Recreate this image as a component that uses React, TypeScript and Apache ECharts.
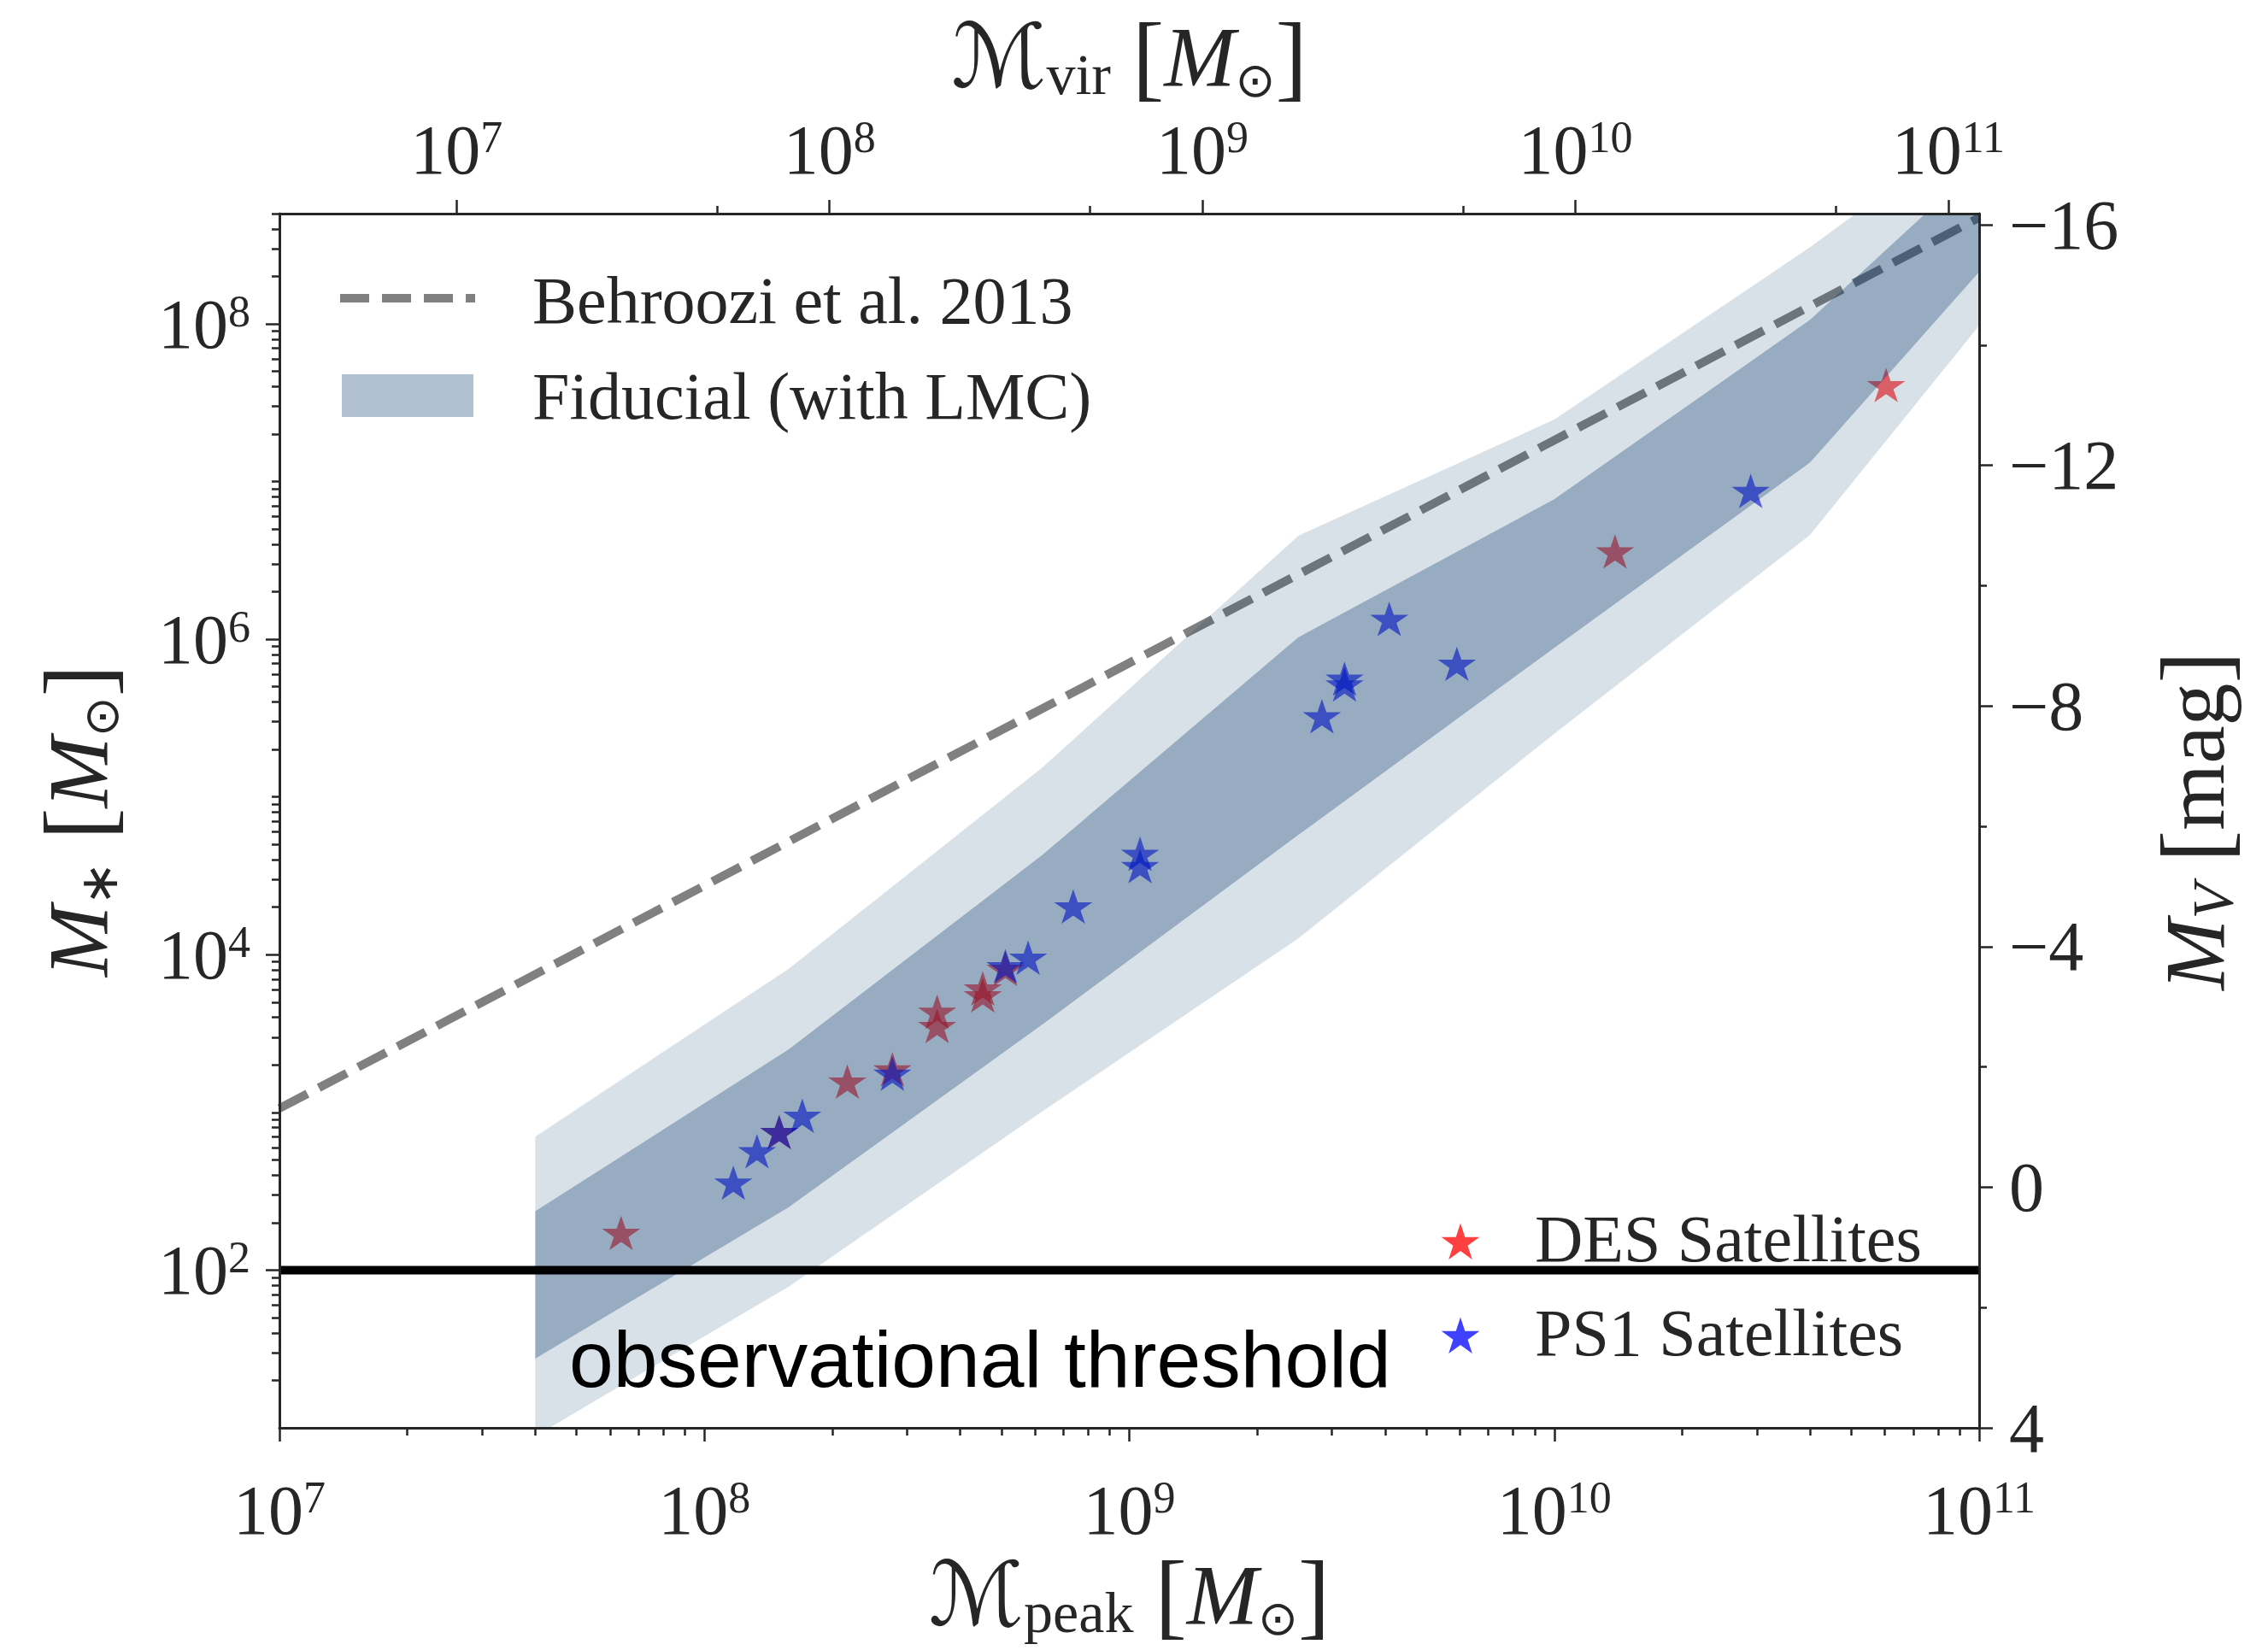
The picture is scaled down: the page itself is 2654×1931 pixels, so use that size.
import React, { useEffect, useRef } from "react";
import * as echarts from "echarts";

const W = 2654;
const H = 1931;

// Halo-mass bins (M_peak) at which the fiducial model envelopes are tabulated
const bandMass = [4e7, 1.58e8, 6.25e8, 2.5e9, 1e10, 4e10, 1.6e11];
// outer (light) envelope of stellar mass
const outerUpper = [702, 8150, 1.54e5, 4.54e6, 2.47e7, 3.06e8, 4.79e9];
const outerLower = [8.85, 78.7, 1016, 1.27e4, 2.52e5, 4.59e6, 4.68e8];
// inner (dark) envelope of stellar mass
const innerUpper = [236, 2510, 4.3e4, 1.03e6, 7.73e6, 1.06e8, 3.31e9];
const innerLower = [27.5, 251, 3620, 5.75e4, 8.81e5, 1.32e7, 8.91e8];

// Behroozi et al. 2013 relation (a power law across this mass range)
const behroozi = [
  [1e7, 1060],
  [1e11, 4.72e8],
];

// [M_peak, M_*]
const desSatellites = [
  [6.37e7, 170],
  [1.5e8, 741],
  [2.17e8, 1550],
  [2.77e8, 1850],
  [3.53e8, 4300],
  [3.53e8, 3490],
  [4.52e8, 6040],
  [4.52e8, 5460],
  [5.11e8, 8040],
  [1.39e10, 3.56e6],
  [6.04e10, 4.04e7],
];
const ps1Satellites = [
  [1.17e8, 354],
  [1.33e8, 561],
  [1.5e8, 741],
  [1.7e8, 940],
  [2.77e8, 1740],
  [5.11e8, 8350],
  [5.78e8, 9460],
  [7.38e8, 2.0e4],
  [1.06e9, 4.31e4],
  [1.06e9, 3.6e4],
  [2.84e9, 3.21e5],
  [3.21e9, 5.55e5],
  [3.21e9, 5.11e5],
  [4.09e9, 1.33e6],
  [5.9e9, 6.9e5],
  [2.9e10, 8.61e6],
];

// detection limit in stellar mass
const thresholdMass = 100;
const thresholdSpan = [1e7, 1e11];

// axis ranges and ticks
const peakRange = [1e7, 1e11];
const virRange = [3.35e6, 1.21e11];
const mstarRange = [10, 5e8];
const magRange = [-16.185, 4];
const peakTicks = [1e7, 1e8, 1e9, 1e10, 1e11];
const virTicks = [1e7, 1e8, 1e9, 1e10, 1e11];
const virMinorTicks = [5e7, 5e8, 5e9, 5e10];
const mstarTicks = [1e2, 1e4, 1e6, 1e8];
const magTicks = [-16, -12, -8, -4, 0, 4];
const magMinorTicks = [-14, -10, -6, -2, 2];

const INK = "#262626";
const SERIF = "'Liberation Serif', 'Times New Roman', serif";
const SANS = "'Liberation Sans', Arial, Helvetica, sans-serif";
const SYMBOL_FONT = "'DejaVu Sans', 'DejaVu Serif', sans-serif";

const BAND_RGB = "0, 51, 102";
const STAR_PATH =
  "path://M0,-100L22.45,-30.9L95.11,-30.9L36.33,11.8L58.78,80.9L0,38.2L-58.78,80.9L-36.33,11.8L-95.11,-30.9L-22.45,-30.9Z";
const STAR_R = 23.5;

// log-axis minor tick values: mantissa 1..9 in every decade, skipping the majors
function logMinor(lo: number, hi: number, majors: number[]) {
  const out: number[] = [];
  for (let e = Math.floor(Math.log10(lo)); e <= Math.ceil(Math.log10(hi)); e++) {
    for (let m = 1; m <= 9; m++) {
      const v = m * Math.pow(10, e);
      if (v <= lo || v > hi) continue;
      if (majors.some((t) => Math.abs(t - v) / v < 1e-9)) continue;
      out.push(v);
    }
  }
  return out;
}

function starPoints(cx: number, cy: number, r: number) {
  const pts: number[][] = [];
  for (let k = 0; k < 10; k++) {
    const a = -Math.PI / 2 + (k * Math.PI) / 5;
    const rr = k % 2 === 0 ? r : r * 0.381966;
    pts.push([cx + rr * Math.cos(a), cy + rr * Math.sin(a)]);
  }
  return pts;
}

const powLabel = (v: number) => `{b|10}{s|${Math.round(Math.log10(v))}}`;
const powRich = {
  b: { fontFamily: SERIF, fontSize: 82, lineHeight: 82, color: INK },
  s: { fontFamily: SERIF, fontSize: 52, lineHeight: 33, verticalAlign: "top", color: INK },
};
const magLabel = (v: number) => (v < 0 ? "\u2212" + Math.abs(v) : String(v));

const titleRich = {
  cal: { fontFamily: SYMBOL_FONT, fontSize: 104, lineHeight: 110, color: INK },
  it: { fontFamily: SERIF, fontStyle: "italic", fontSize: 100, lineHeight: 110, color: INK },
  rm: { fontFamily: SERIF, fontSize: 100, lineHeight: 110, color: INK },
  br: { fontFamily: SERIF, fontSize: 112, lineHeight: 110, color: INK },
  sub: { fontFamily: SERIF, fontSize: 68, lineHeight: 80, verticalAlign: "bottom", color: INK },
  subIt: {
    fontFamily: SERIF,
    fontStyle: "italic",
    fontSize: 68,
    lineHeight: 80,
    verticalAlign: "bottom",
    color: INK,
  },
  ast: { fontFamily: SYMBOL_FONT, fontSize: 62, lineHeight: 62, verticalAlign: "bottom", color: INK },
  sun: { fontFamily: SYMBOL_FONT, fontSize: 56, lineHeight: 56, verticalAlign: "bottom", color: INK },
};

const spine = { show: true, onZero: false, lineStyle: { color: INK, width: 3 } };
const noLine = { show: false, onZero: false };
const ticks = (values: number[], length: number) => ({
  show: true,
  inside: false,
  length,
  customValues: values,
  lineStyle: { color: INK, width: 2.5 },
});
const noSplit = { show: false };

function buildOption() {
  const peakMinor = logMinor(peakRange[0], peakRange[1], peakTicks);
  const mstarMinor = logMinor(mstarRange[0], mstarRange[1], mstarTicks);

  const bandSeries = (name: string, upper: number[], lower: number[], alpha: number, z: number) => ({
    name,
    type: "custom",
    coordinateSystem: "cartesian2d",
    xAxisIndex: 0,
    yAxisIndex: 0,
    clip: true,
    silent: true,
    z,
    encode: { x: 0, y: [1, 2] },
    data: bandMass.map((m, i) => [m, lower[i], upper[i]]),
    renderItem: (params: any, api: any) => {
      if (params.dataIndex !== 0) return null;
      const top = bandMass.map((m, i) => api.coord([m, upper[i]]));
      const bottom = bandMass.map((m, i) => api.coord([m, lower[i]])).reverse();
      return {
        type: "polygon",
        shape: { points: top.concat(bottom) },
        style: { fill: `rgba(${BAND_RGB}, ${alpha})` },
      };
    },
  });

  const legendY1 = 349;
  const legendY2 = 463;

  return {
    animation: false,
    backgroundColor: "#ffffff",
    textStyle: { fontFamily: SERIF },
    grid: {
      left: 327,
      top: 250,
      width: 1989,
      height: 1421,
      containLabel: false,
      outerBoundsMode: "none",
    },
    xAxis: [
      {
        type: "log",
        logBase: 10,
        min: peakRange[0],
        max: peakRange[1],
        position: "bottom",
        z: 10,
        axisLine: spine,
        axisTick: ticks(peakTicks, 16),
        axisLabel: { customValues: peakTicks, margin: 55, formatter: powLabel, rich: powRich },
        splitLine: noSplit,
        name: "{cal|\u2133}{sub|peak}{rm| }{br|[}{it|M}{sun|\u2299}{br|]}",
        nameLocation: "middle",
        nameGap: 140,
        nameMoveOverlap: false,
        nameTextStyle: { rich: titleRich },
      },
      {
        type: "log",
        logBase: 10,
        min: peakRange[0],
        max: peakRange[1],
        position: "bottom",
        z: 10,
        axisLine: noLine,
        axisTick: ticks(peakMinor, 9),
        axisLabel: { show: false },
        splitLine: noSplit,
      },
      {
        type: "log",
        logBase: 10,
        min: virRange[0],
        max: virRange[1],
        position: "top",
        z: 10,
        axisLine: spine,
        axisTick: ticks(virTicks, 16),
        axisLabel: { customValues: virTicks, margin: 34, formatter: powLabel, rich: powRich },
        splitLine: noSplit,
        name: "{cal|\u2133}{sub|vir}{rm| }{br|[}{it|M}{sun|\u2299}{br|]}",
        nameLocation: "middle",
        nameGap: 129,
        nameMoveOverlap: false,
        nameTextStyle: { rich: titleRich },
      },
      {
        type: "log",
        logBase: 10,
        min: virRange[0],
        max: virRange[1],
        position: "top",
        z: 10,
        axisLine: noLine,
        axisTick: ticks(virMinorTicks, 9),
        axisLabel: { show: false },
        splitLine: noSplit,
      },
    ],
    yAxis: [
      {
        type: "log",
        logBase: 10,
        min: mstarRange[0],
        max: mstarRange[1],
        position: "left",
        z: 10,
        axisLine: spine,
        axisTick: ticks(mstarTicks, 16),
        axisLabel: { customValues: mstarTicks, margin: 34, formatter: powLabel, rich: powRich },
        splitLine: noSplit,
        name: "{it|M}{ast|\u2217}{rm| }{br|[}{it|M}{sun|\u2299}{br|]}",
        nameLocation: "middle",
        nameGap: 181,
        nameRotate: 90,
        nameMoveOverlap: false,
        nameTextStyle: { rich: titleRich },
      },
      {
        type: "log",
        logBase: 10,
        min: mstarRange[0],
        max: mstarRange[1],
        position: "left",
        z: 10,
        axisLine: noLine,
        axisTick: ticks(mstarMinor, 9),
        axisLabel: { show: false },
        splitLine: noSplit,
      },
      {
        type: "value",
        min: magRange[0],
        max: magRange[1],
        inverse: true,
        position: "right",
        z: 10,
        axisLine: spine,
        axisTick: ticks(magTicks, 16),
        axisLabel: {
          customValues: magTicks,
          margin: 35,
          formatter: magLabel,
          fontFamily: SERIF,
          fontSize: 82,
          color: INK,
        },
        splitLine: noSplit,
        name: "{it|M}{subIt|V}{rm| }{br|[}{rm|mag}{br|]}",
        nameLocation: "middle",
        nameGap: 197,
        nameRotate: 90,
        nameMoveOverlap: false,
        nameTextStyle: { rich: titleRich },
      },
      {
        type: "value",
        min: magRange[0],
        max: magRange[1],
        inverse: true,
        position: "right",
        z: 10,
        axisLine: noLine,
        axisTick: ticks(magMinorTicks, 9),
        axisLabel: { show: false },
        splitLine: noSplit,
      },
    ],
    series: [
      {
        name: "Behroozi et al. 2013",
        type: "line",
        xAxisIndex: 0,
        yAxisIndex: 0,
        data: behroozi,
        symbol: "none",
        clip: true,
        silent: true,
        z: 1,
        lineStyle: { color: "#808080", width: 10, type: [37, 15], cap: "butt" },
      },
      {
        name: "DES Satellites",
        type: "scatter",
        xAxisIndex: 0,
        yAxisIndex: 0,
        data: desSatellites,
        symbol: STAR_PATH,
        symbolSize: [1.902 * STAR_R, 1.809 * STAR_R],
        symbolKeepAspect: true,
        symbolOffset: [0, -1],
        silent: true,
        z: 2,
        itemStyle: { color: "rgba(255, 0, 0, 0.75)" },
      },
      {
        name: "PS1 Satellites",
        type: "scatter",
        xAxisIndex: 0,
        yAxisIndex: 0,
        data: ps1Satellites,
        symbol: STAR_PATH,
        symbolSize: [1.902 * STAR_R, 1.809 * STAR_R],
        symbolKeepAspect: true,
        symbolOffset: [0, -1],
        silent: true,
        z: 3,
        itemStyle: { color: "rgba(0, 0, 255, 0.75)" },
      },
      bandSeries("Fiducial outer", outerUpper, outerLower, 0.15, 4),
      bandSeries("Fiducial (with LMC)", innerUpper, innerLower, 0.3, 5),
      {
        name: "observational threshold",
        type: "line",
        xAxisIndex: 0,
        yAxisIndex: 0,
        data: thresholdSpan.map((m) => [m, thresholdMass]),
        symbol: "none",
        clip: true,
        silent: true,
        z: 6,
        lineStyle: { color: "#000000", width: 10 },
      },
    ],
    graphic: [
      // upper-left legend
      {
        type: "line",
        z: 20,
        shape: { x1: 398, y1: legendY1, x2: 556, y2: legendY1 },
        style: { stroke: "#808080", lineWidth: 10, lineDash: [34, 15] },
      },
      {
        type: "rect",
        z: 20,
        shape: { x: 400, y: 438, width: 154, height: 50 },
        style: { fill: `rgba(${BAND_RGB}, 0.3)` },
      },
      {
        type: "text",
        z: 20,
        x: 623,
        y: legendY1 + 2,
        style: {
          text: "Behroozi et al. 2013",
          fontFamily: SERIF,
          fontSize: 78,
          fill: INK,
          verticalAlign: "middle",
        },
      },
      {
        type: "text",
        z: 20,
        x: 623,
        y: legendY2,
        style: {
          text: "Fiducial (with LMC)",
          fontFamily: SERIF,
          fontSize: 78,
          fill: INK,
          verticalAlign: "middle",
        },
      },
      // lower-right legend
      {
        type: "polygon",
        z: 20,
        shape: { points: starPoints(1709, 1455, STAR_R) },
        style: { fill: "rgba(255, 0, 0, 0.75)" },
      },
      {
        type: "polygon",
        z: 20,
        shape: { points: starPoints(1709, 1565, STAR_R) },
        style: { fill: "rgba(0, 0, 255, 0.75)" },
      },
      {
        type: "text",
        z: 20,
        x: 1796,
        y: 1449,
        style: { text: "DES Satellites", fontFamily: SERIF, fontSize: 78, fill: INK, verticalAlign: "middle" },
      },
      {
        type: "text",
        z: 20,
        x: 1796,
        y: 1559,
        style: { text: "PS1 Satellites", fontFamily: SERIF, fontSize: 78, fill: INK, verticalAlign: "middle" },
      },
      // threshold annotation
      {
        type: "text",
        z: 20,
        x: 666,
        y: 1591,
        style: {
          text: "observational threshold",
          fontFamily: SANS,
          fontSize: 93,
          fill: "#000000",
          verticalAlign: "middle",
        },
      },
    ],
  };
}

export default function App() {
  const ref = useRef<HTMLDivElement>(null);

  useEffect(() => {
    document.body.style.margin = "0";
    document.body.style.overflow = "hidden";
    if (!ref.current) return;
    const chart = echarts.init(ref.current, null, { renderer: "svg", width: W, height: H });
    chart.setOption(buildOption() as any);
    return () => chart.dispose();
  }, []);

  return <div ref={ref} style={{ width: W, height: H, background: "#ffffff" }} />;
}
